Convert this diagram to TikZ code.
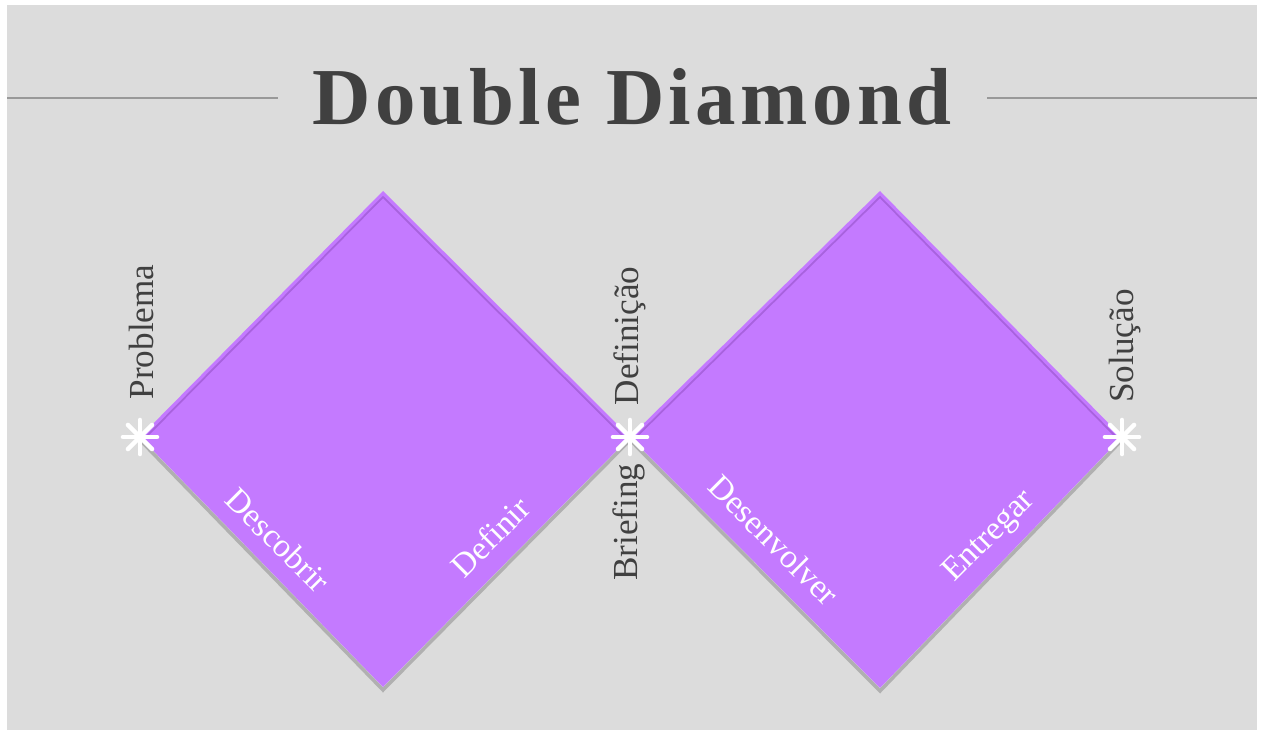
\documentclass[tikz,border=0pt]{standalone}
\usepackage{fontspec}
\setmainfont{Liberation Serif}
\newfontfamily\titlefont[LetterSpace=5.5]{Liberation Serif}
\usepackage{xcolor}
\usetikzlibrary{positioning,calc}

\definecolor{panelgrey}{HTML}{DCDCDC}
\definecolor{ddpurple}{HTML}{C47AFF}
\definecolor{ddline}{HTML}{A862DE}
\definecolor{ddshadow}{HTML}{B0B0B0}
\definecolor{titlegrey}{HTML}{404040}

\begin{document}
\begin{tikzpicture}[
  x=0.02cm, y=-0.02cm,
  diam/.style={fill=ddpurple, draw=none},
  shade/.style={draw=ddshadow, line width=2pt, line join=miter},
  inner/.style={draw=ddline, line width=1pt},
  phase/.style={font=\fontsize{19}{22}\selectfont, text=white, inner sep=0pt},
  stage/.style={font=\fontsize{20}{24}\selectfont, text=titlegrey, inner sep=0pt, rotate=90},
  spark/.style={white, line width=2.6pt, line cap=round}
]
  % background
  \fill[white] (0,0) rectangle (1261,733);
  \fill[panelgrey] (7,5) rectangle (1257,730);
  \useasboundingbox (0,0) rectangle (1261,733);

  % title
  \node[font=\titlefont\fontsize{46}{52}\selectfont\bfseries, text=titlegrey, inner sep=0pt] (title) at (632,97) {Double Diamond};
  \coordinate (lineL) at (7,98);
  \coordinate (lineR) at (1257,98);
  \draw[gray!80, line width=0.6pt] (lineL) -- (278,98);
  \draw[gray!80, line width=0.6pt] (987,98) -- (lineR);

  % corner points
  \coordinate (prob) at (140,437);
  \coordinate (brief) at (630,437);
  \coordinate (sol) at (1122,437);
  \coordinate (top1) at (383,191);
  \coordinate (bot1) at (383,687);
  \coordinate (top2) at (880,191);
  \coordinate (bot2) at (880,688);

  % shadows
  \draw[shade] ($(prob)+(0,3)$) -- ($(bot1)+(0,3)$) -- ($(brief)+(0,3)$);
  \draw[shade] ($(brief)+(0,3)$) -- ($(bot2)+(0,3)$) -- ($(sol)+(0,3)$);

  % diamonds
  \fill[diam] (prob) -- (top1) -- (brief) -- (bot1) -- cycle;
  \fill[diam] (brief) -- (top2) -- (sol) -- (bot2) -- cycle;
  \draw[inner] ($(prob)+(6,0)$) -- ($(top1)+(0,6)$) -- ($(brief)+(-6,0)$);
  \draw[inner] ($(brief)+(6,0)$) -- ($(top2)+(0,6)$) -- ($(sol)+(-6,0)$);

  % sparks
  \foreach \p in {prob,brief,sol}
    \foreach \a in {0,45,...,135}
      \draw[spark] ($(\p)+(\a:17)$) -- ($(\p)+(\a+180:17)$);

  % stage labels
  \node[stage] (problema) at (141,332) {Problema};
  \node[stage] (definicao) at (630,336) {Definição};
  \node[stage] (briefing) at (629,522) {Briefing};
  \node[stage] (solucao) at (1125,346) {Solução};

  % phase labels
  \node[phase, rotate=-45] (descobrir) at (278,540) {Descobrir};
  \node[phase, rotate=45] (definir) at (490,537) {Definir};
  \node[phase, rotate=-45] (desenvolver) at (774,540) {Desenvolver};
  \node[phase, rotate=45] (entregar) at (990,537) {Entregar};
\end{tikzpicture}
\end{document}
